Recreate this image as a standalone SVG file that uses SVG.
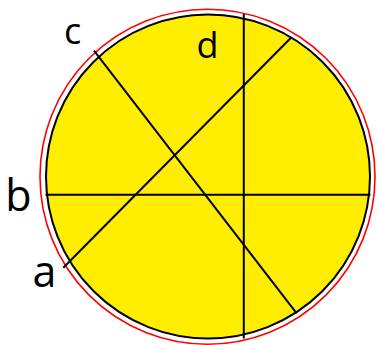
<svg xmlns="http://www.w3.org/2000/svg" width="377" height="345" viewBox="0 0 377 345">
<style>
.ln{stroke:#000;stroke-width:2;fill:none}
.lbl{font-family:"Open Sans","Noto Sans",sans-serif;fill:#000;text-anchor:middle}
.s{font-size:36px}
.l{font-size:43px}
</style>
<g id="outer-ring"><circle cx="207.5" cy="176.7" r="167.5" fill="none" stroke="#ff0000" stroke-width="1.6"/></g>
<g id="disc"><circle cx="208" cy="176.5" r="162" fill="#ffee00" stroke="#000" stroke-width="2"/></g>
<g id="connectors">
<line class="ln" x1="45.5" y1="194.8" x2="370.5" y2="194.8"/>
<line class="ln" x1="243.8" y1="14" x2="243.8" y2="338.5"/>
<line class="ln" x1="63.3" y1="267.7" x2="291" y2="37.7"/>
<line class="ln" x1="94" y1="50.7" x2="296.7" y2="313.3"/>
</g>
<g id="label-c"><text class="lbl s" x="72.5" y="44">c</text></g>
<g id="label-d"><text class="lbl s" x="207.5" y="58">d</text></g>
<g id="label-b"><text class="lbl l" x="18.5" y="211">b</text></g>
<g id="label-a"><text class="lbl l" x="44.5" y="287">a</text></g>
</svg>
